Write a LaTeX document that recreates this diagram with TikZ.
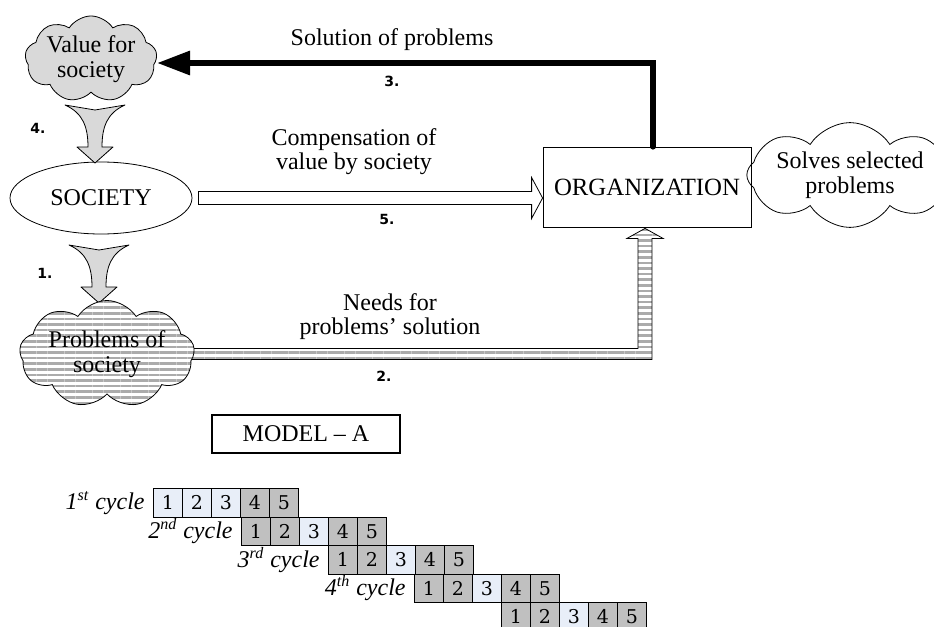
\documentclass[tikz,border=0pt]{standalone}
\usepackage{fontspec}
\setmainfont{Liberation Serif}
\newfontfamily\stepfont{DejaVu Sans}
\newfontfamily\cellfont{DejaVu Serif}
\usetikzlibrary{shapes.geometric,shapes.symbols,arrows.meta,calc,patterns.meta}

\definecolor{puffgray}{RGB}{217,217,217}
\definecolor{lightcell}{RGB}{232,238,248}
\definecolor{darkcell}{RGB}{192,192,192}

\begin{document}
\begin{tikzpicture}[x=0.5pt,y=-0.5pt,
  txt/.style={font=\fontsize{12}{12}\selectfont, align=center, inner sep=0pt},
  stepno/.style={font=\stepfont\bfseries\fontsize{7}{8}\selectfont, inner sep=0pt},
  puff/.style={cloud, cloud puffs=9, cloud puff arc=115, cloud ignores aspect,
    draw, thin, align=center, font=\fontsize{12}{12.5}\selectfont, inner sep=0pt},
  stripes/.style={preaction={fill=white},
    pattern={Lines[angle=0,distance=2.8pt,line width=1.3pt]}, pattern color=black!33},
  funnelarrow/.style={draw, thin, fill=puffgray, line join=round},
  blockwhite/.style={draw, thin, fill=white},
  solution/.style={line width=3pt, line cap=round,
    -{Triangle[length=16.5pt,width=11.5pt]}},
  cellbox/.style={draw, line width=0.5pt, minimum width=14.5pt, minimum height=14.25pt,
    inner sep=0pt, anchor=north west, font=\cellfont\fontsize{9.5}{10}\selectfont},
  cyclelabel/.style={font=\itshape\fontsize{12}{12}\selectfont, inner sep=0pt, anchor=east},
  funnel/.pic={
    \path[funnelarrow] (-30,0) -- (0,5) -- (30,0)
      .. controls (12,8) and (7,22) .. (7,42) -- (18,42) -- (0,58) -- (-18,42) -- (-7,42)
      .. controls (-7,22) and (-12,8) .. (-30,0) -- cycle;
  }
]
\useasboundingbox (0,0) rectangle (934,627);

% main nodes
\node[puff, fill=puffgray, minimum width=66pt, minimum height=43pt] (val) at (91,59) {Value for\\society};
\node[ellipse, draw, thin, minimum width=91pt, minimum height=36pt, txt] (soc) at (101,198) {SOCIETY};
\node[draw, thin, minimum width=104pt, minimum height=40pt, inner sep=0pt,
  font=\fontsize{12.4}{13}\selectfont] (org) at (647,187) {ORGANIZATION};
\node[puff, cloud puffs=8, minimum width=80pt, minimum height=51pt] (solves) at (850,175) {Solves selected\\problems};

% 4: value -> society
\pic at ($(val.center)+(4,46)$) {funnel};
\node[stepno] (n4) at (38,128) {4.};

% 1: society -> problems
\pic at ($(soc.center)+(-2,47)$) {funnel};
\node[stepno] (n1) at (45,273) {1.};

% 2: striped arrow from the problems up into the organization
\coordinate (t2) at ([xshift=-1pt,yshift=-0.5pt]org.south);
\coordinate (p2) at (107,354);
\path[stripes, draw, thin]
  ($(p2)+(70,-5.5)$) -- ($(t2 |- p2)+(-7,-5.5)$) -- ($(t2)+(-7,10)$) -- ($(t2)+(-18,10)$)
  -- (t2) -- ($(t2)+(18,10)$) -- ($(t2)+(7,10)$) -- ($(t2 |- p2)+(7,5.5)$)
  -- ($(p2)+(70,5.5)$) -- cycle;
\node[puff, stripes, minimum width=87.5pt, minimum height=53.5pt] (prob) at (p2) {Problems of\\society};
\node[txt] (l2) at (390,317) {Needs for\\problems’ solution};
\node[stepno] (n2) at (384,376) {2.};

% 5: compensation, society -> organization
\coordinate (t5) at (org.west |- soc.center);
\path[blockwhite] ($(soc.east)+(6,-6.5)$) -- ($(t5)+(-11,-6.5)$) -- ($(t5)+(-11,-20.5)$)
  -- (t5) -- ($(t5)+(-11,20.5)$) -- ($(t5)+(-11,6.5)$) -- ($(soc.east)+(6,6.5)$) -- cycle;
\node[txt] (l5) at (354,152) {Compensation of\\value by society};
\node[stepno] (n5) at (387,219) {5.};

% 3: solution, organization -> value
\draw[solution] ([xshift=3pt]org.north) |- ($(val.center)+(66,4)$);
\node[txt, anchor=base] (l3) at (392,45) {Solution of problems};
\node[stepno] (n3) at (392,81) {3.};

% model caption
\node[draw, line width=1pt, minimum width=94pt, minimum height=19pt, txt] (model) at (306,434) {MODEL – A};

% cycle table
\foreach \r/\x/\y in {1/153/488, 2/241/516.5, 3/328/545, 4/414/573.5, 5/501/602} {
  \foreach \k in {1,...,5} {
    \pgfmathtruncatemacro\islight{((\r==1) && (\k<4)) || (\k==3)}
    \ifnum\islight=1 \def\cellcol{lightcell}\else\def\cellcol{darkcell}\fi
    \node[cellbox, fill=\cellcol] (c\r\k) at ({\x+(\k-1)*29},\y) {\k};
  }
}
\node[cyclelabel] (cy1) at ($(c11.west)+(-8,0)$) {1\textsuperscript{st} cycle};
\node[cyclelabel] (cy2) at ($(c21.west)+(-8,0)$) {2\textsuperscript{nd} cycle};
\node[cyclelabel] (cy3) at ($(c31.west)+(-8,0)$) {3\textsuperscript{rd} cycle};
\node[cyclelabel] (cy4) at ($(c41.west)+(-8,0)$) {4\textsuperscript{th} cycle};
\end{tikzpicture}
\end{document}
